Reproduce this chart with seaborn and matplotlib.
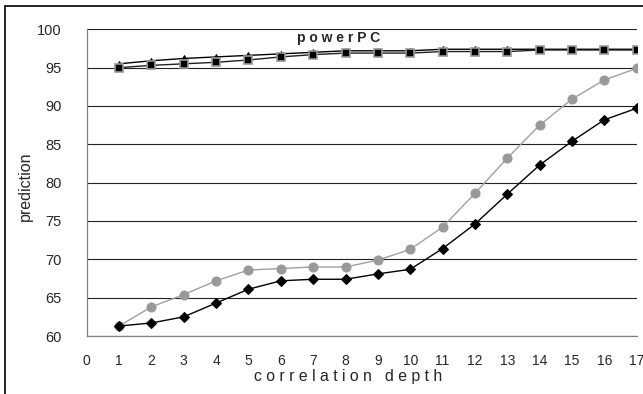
import numpy as np
import pandas as pd
import seaborn as sns
import matplotlib.pyplot as plt
from matplotlib.patches import Rectangle

depth = list(range(1, 18))
ppc_tri = [95.5, 95.9, 96.2, 96.4, 96.6, 96.8, 97.0, 97.2, 97.2, 97.2,
           97.4, 97.4, 97.4, 97.4, 97.4, 97.4, 97.4]
ppc_sq = [95.0, 95.3, 95.5, 95.7, 96.0, 96.4, 96.7, 96.9, 96.9, 96.9,
          97.1, 97.1, 97.1, 97.3, 97.3, 97.3, 97.3]
gray_circ = [61.3, 63.8, 65.4, 67.2, 68.6, 68.8, 69.0, 69.0, 69.9, 71.3,
             74.2, 78.6, 83.2, 87.5, 90.9, 93.4, 94.9]
black_dia = [61.3, 61.7, 62.5, 64.3, 66.1, 67.2, 67.4, 67.4, 68.1, 68.7,
             71.4, 74.6, 78.5, 82.3, 85.4, 88.2, 89.7]
yticks = [60, 65, 70, 75, 80, 85, 90, 95, 100]
xticks = list(range(0, 18))

sns.set_style("white")
plt.rcParams['font.family'] = ['Liberation Sans', 'DejaVu Sans']

fig = plt.figure(figsize=(6.43, 3.94), dpi=100)
ax = fig.add_axes([0.1348, 0.1472, 0.8554, 0.7784])

df = pd.DataFrame({'depth': depth, 'tri': ppc_tri, 'sq': ppc_sq,
                   'circ': gray_circ, 'dia': black_dia})

sns.lineplot(data=df, x='depth', y='circ', ax=ax, color='#a0a0a0', lw=1.0,
             marker='o', markersize=6.5, markerfacecolor='#999999',
             markeredgecolor='#999999', zorder=3)
sns.lineplot(data=df, x='depth', y='dia', ax=ax, color='black', lw=1.0,
             marker='D', markersize=5.2, markerfacecolor='black',
             markeredgecolor='black', zorder=4)
sns.lineplot(data=df, x='depth', y='tri', ax=ax, color='black', lw=1.0,
             marker='^', markersize=5, markerfacecolor='black',
             markeredgecolor='black', zorder=4)
sns.lineplot(data=df, x='depth', y='sq', ax=ax, color='#202020', lw=1.0,
             marker='s', markersize=5.5, markerfacecolor='black',
             markeredgecolor='#999999', markeredgewidth=1.2, zorder=5)

ax.set_xlim(0, 17)
ax.set_ylim(60, 100)
ax.set_xticks(xticks)
ax.set_yticks(yticks)
ax.set_xticklabels([str(t) for t in xticks], fontsize=10)
ax.set_yticklabels([str(t) for t in yticks], fontsize=10.5)
ax.yaxis.grid(True, color='#222222', lw=0.8)
ax.set_axisbelow(True)
ax.tick_params(axis='both', direction='out', length=4, width=0.8,
               color='#808080')
ax.tick_params(axis='x', pad=9)
ax.tick_params(axis='y', pad=14)
for s in ['top', 'right']:
    ax.spines[s].set_visible(False)
for s in ['left', 'bottom']:
    ax.spines[s].set_color('#808080')
    ax.spines[s].set_linewidth(0.9)

ax.set_xlabel('')
ax.set_ylabel('')
fig.text(348 / 643, 1 - 377 / 394, 'c o r r e l a t i o n   d e p t h',
         ha='center', va='center', fontsize=11.4)
fig.text(25 / 643, 1 - 186 / 394, 'prediction', rotation=90,
         ha='center', va='center', fontsize=11.5)
ax.text(7.8, 98.9, 'p o w e r P C', ha='center', va='center',
        fontsize=10, fontweight='bold')

fig.patches.append(Rectangle((5 / 643, -0.1), 1.2, 1 - 6 / 394 + 0.1,
                             transform=fig.transFigure, fill=False,
                             edgecolor='black', lw=1.2))

fig.savefig('out.png', dpi=100)
